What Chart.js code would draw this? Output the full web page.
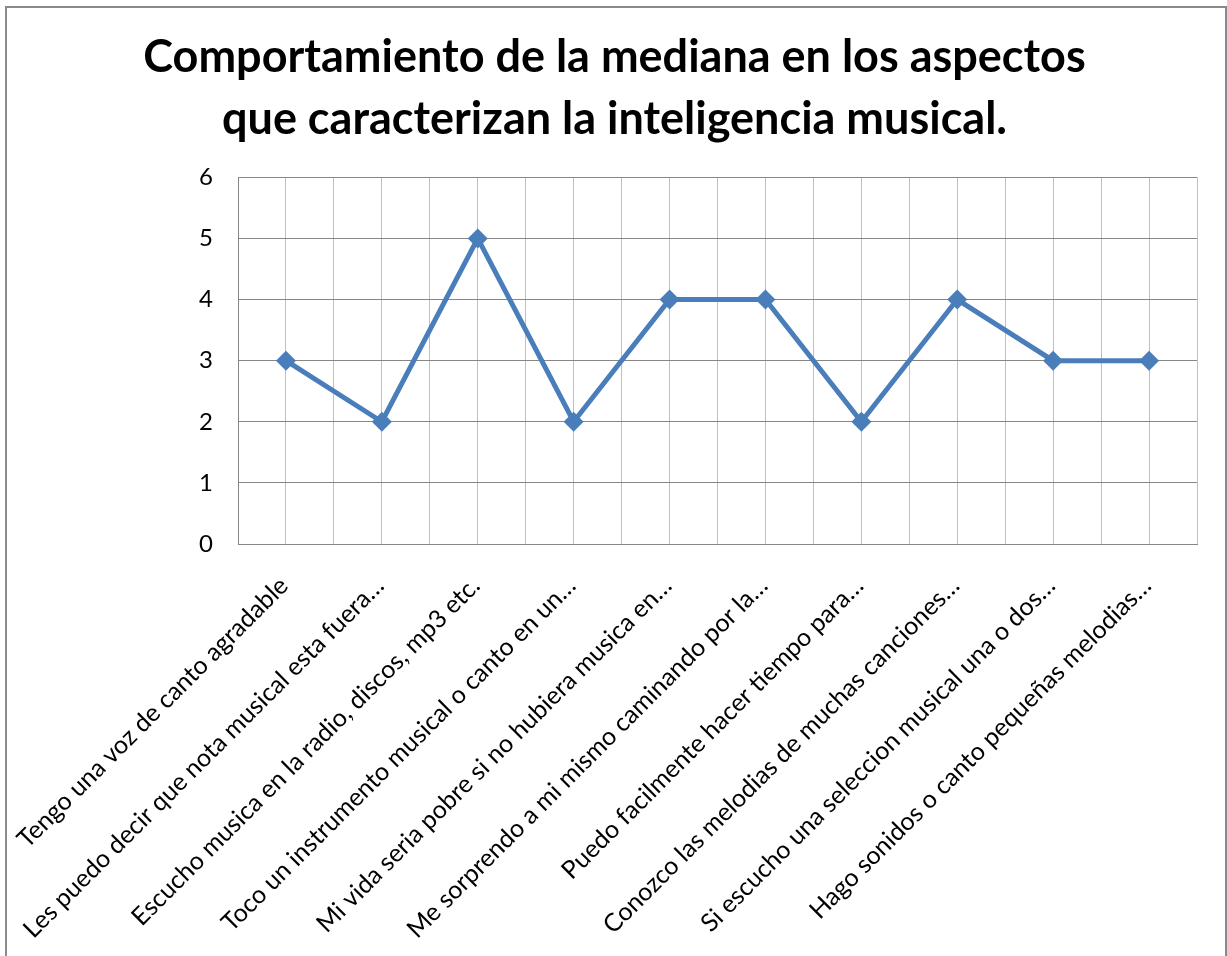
<!DOCTYPE html>
<html>
<head>
<meta charset="utf-8">
<script src="https://cdn.jsdelivr.net/npm/chart.js@4/dist/chart.umd.min.js"></script>
<style>
    body { margin: 0; background: #fff; }
    #wrap { position: relative; width: 1227px; height: 956px; overflow: hidden; }
    #frame { position: absolute; left: 5px; top: 6px; width: 1218px; height: 1000px; border: 2px solid #8a8a8a; }
    canvas { position: absolute; left: 0; top: 0; }
</style>
</head>
<body>
<div id="wrap">
    <canvas id="median-chart" width="1227" height="956"></canvas>
    <div id="frame"></div>
</div>
<script>
const chartTitle = ['Comportamiento de la mediana en los aspectos', 'que caracterizan la inteligencia musical.']

const categories = [
    'Tengo una voz de canto agradable',
    'Les puedo decir que nota musical esta fuera…',
    'Escucho musica en la radio, discos, mp3 etc.',
    'Toco un instrumento musical o canto en un…',
    'Mi vida seria pobre si no hubiera musica en…',
    'Me sorprendo a mi mismo caminando por la…',
    'Puedo facilmente hacer tiempo para…',
    'Conozco las melodias de muchas canciones…',
    'Si escucho una seleccion musical una o dos…',
    'Hago sonidos o canto pequeñas melodias…'
]

const medianValues = [3, 2, 5, 2, 4, 4, 2, 4, 3, 3]

const yTicks = [0, 1, 2, 3, 4, 5, 6]

// points go at 0..9, the x axis runs half a step past each end
const points = categories.map((label, i) => ({ x: i, y: medianValues[i] }))

const ctx = document.getElementById('median-chart')

new Chart(ctx, {
    type: 'line',
    data: {
        datasets: [{
            label: 'Mediana',
            data: points,
            borderColor: '#4a7ebb',
            backgroundColor: '#4a7ebb',
            borderWidth: 5,
            tension: 0,
            pointStyle: 'rectRot',
            pointRadius: 10,
            pointHoverRadius: 10,
            pointBorderWidth: 0
        }]
    },
    options: {
        responsive: false,
        animation: false,
        layout: { padding: { top: 0, right: 30, bottom: 0, left: 32 } },
        plugins: {
            legend: { display: false },
            tooltip: { enabled: false },
            title: {
                display: true,
                text: chartTitle,
                color: '#000',
                font: { family: 'Lato', size: 45, weight: 'bold', lineHeight: 1.37 },
                padding: { top: 27, bottom: 27 }
            }
        },
        scales: {
            x: {
                type: 'linear',
                min: -0.5,
                max: 9.5,
                afterBuildTicks: (axis) => {
                    axis.ticks = []
                    for (let k = 0; k <= 20; k++) axis.ticks.push({ value: -0.5 + k * 0.5 })
                },
                afterFit: (axis) => {
                    axis.height = 412
                    axis.paddingLeft = 0
                    axis.paddingRight = 0
                },
                grid: { color: '#bfbfbf', lineWidth: 1, drawTicks: false },
                border: { color: '#868686', width: 1 },
                ticks: {
                    autoSkip: false,
                    minRotation: 45,
                    maxRotation: 45,
                    padding: 27,
                    labelOffset: -2,
                    color: '#000',
                    font: { family: 'Lato', size: 25 },
                    callback: (value) => Number.isInteger(value) ? categories[value] : ''
                }
            },
            y: {
                min: 0,
                max: 6,
                afterBuildTicks: (axis) => { axis.ticks = yTicks.map(v => ({ value: v })) },
                afterFit: (axis) => { axis.width = 206 },
                grid: { color: '#868686', lineWidth: 1, drawTicks: false },
                border: { color: '#868686', width: 1 },
                ticks: {
                    padding: 25,
                    color: '#000',
                    font: { family: 'Lato', size: 24 }
                }
            }
        }
    }
})
</script>
</body>
</html>
